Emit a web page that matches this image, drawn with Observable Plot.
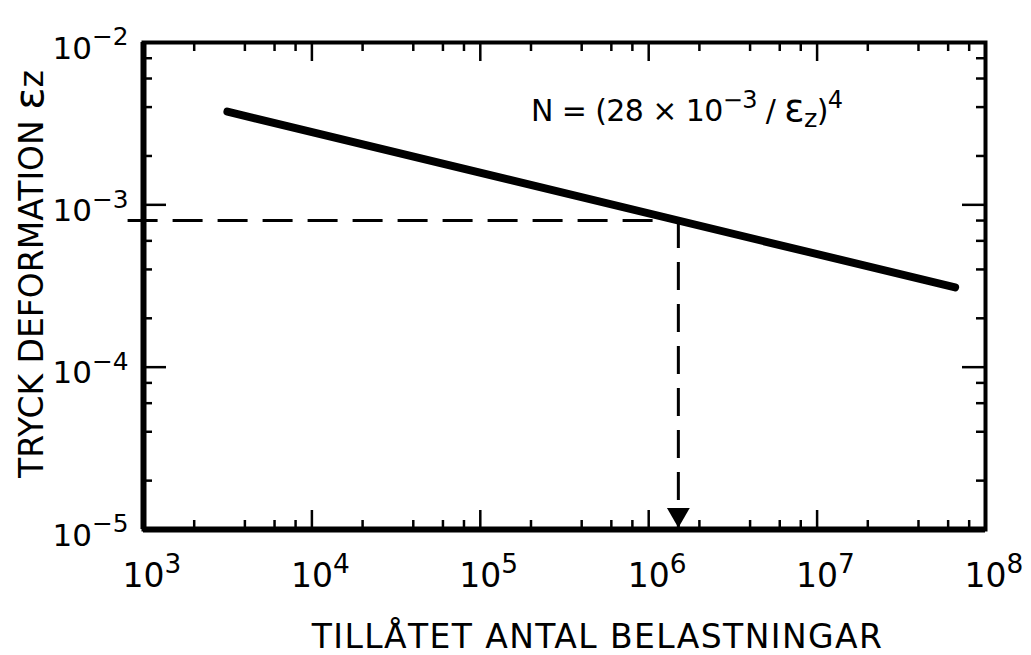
<!DOCTYPE html>
<html><head><meta charset="utf-8">
<script src="https://cdn.jsdelivr.net/npm/d3@7"></script>
<script src="https://cdn.jsdelivr.net/npm/@observablehq/plot@0.6"></script>
<style>
html,body{margin:0;padding:0;background:#fff;}
</style></head><body><div id="chart"></div>
<script>
// ---- data ----
const lineN = [3150, 6.6e7];            // ends of the fatigue line
const lineEps = [3.75e-3, 3.1e-4];
const designN = 1.5e6;                  // dashed read-off
const designEps = 8.0e-4;
const dashStartN = 810;                 // horizontal guide begins just left of axis
const xDecades = [1e3, 1e4, 1e5, 1e6, 1e7, 1e8];
const xExponents = ["3", "4", "5", "6", "7", "8"];
const yDecades = [1e-2, 1e-3, 1e-4, 1e-5];
const yExponents = ["−2", "−3", "−4", "−5"];
const minorMultipliers = [2, 4, 6, 8];
const xTitle = "TILLÅTET ANTAL BELASTNINGAR";
const yTitle = "TRYCK DEFORMATION εz";
const formula = "N = (28 × 10^{−3} / ε_{z})^{4}";
const formulaN = 2.0e5, formulaEps = 3.3e-3;

// ---- layout ----
const W = 1031, H = 655, ML = 143, MR = 46, MT = 42, MB = 126;
const FW = W - ML - MR, FH = H - MT - MB;
const minorLen = 9, majorLen = 19;

const lineData = lineN.map((n, i) => ({N: n, eps: lineEps[i]}));
const xMinor = xDecades.slice(0, -1).flatMap(d => minorMultipliers.map(m => d * m));
const xMajorInner = xDecades.slice(1, -1);
const yMinor = yDecades.slice(1).flatMap(d => minorMultipliers.map(m => d * m));
const yMajorInner = yDecades.slice(1, -1);

const tickStyle = {strokeWidth: 2.5, stroke: "black"};

const chart = Plot.plot({
  width: W, height: H,
  marginLeft: ML, marginRight: MR, marginTop: MT, marginBottom: MB,
  x: {type: "log", domain: [xDecades[0], xDecades[xDecades.length - 1]], axis: null},
  y: {type: "log", domain: [yDecades[yDecades.length - 1], yDecades[0]], axis: null},
  style: {fontFamily: "DejaVu Sans", color: "black", background: "white", overflow: "visible"},
  marks: [
    // inward ticks
    Plot.tickX(xMinor, {x: d => d, insetTop: FH - minorLen, ...tickStyle}),
    Plot.tickX(xMinor, {x: d => d, insetBottom: FH - minorLen, ...tickStyle}),
    Plot.tickX(xMajorInner, {x: d => d, insetTop: FH - majorLen, ...tickStyle}),
    Plot.tickX(xMajorInner, {x: d => d, insetBottom: FH - majorLen, ...tickStyle}),
    Plot.tickY(yMinor, {y: d => d, insetRight: FW - minorLen, ...tickStyle}),
    Plot.tickY(yMinor, {y: d => d, insetLeft: FW - minorLen, ...tickStyle}),
    Plot.tickY(yMajorInner, {y: d => d, insetRight: FW - majorLen - 4, ...tickStyle}),
    Plot.tickY(yMajorInner, {y: d => d, insetLeft: FW - majorLen - 4, ...tickStyle}),
    // frame
    Plot.frame({strokeWidth: 4, stroke: "black"}),
    Plot.ruleX([xDecades[0]], {strokeWidth: 6}),
    Plot.ruleY([yDecades[yDecades.length - 1]], {strokeWidth: 6}),
    // dashed read-off
    Plot.ruleY([designEps], {x1: dashStartN, x2: designN, strokeWidth: 3, strokeDasharray: "30,15"}),
    Plot.ruleX([designN], {y1: designEps, y2: yDecades[yDecades.length - 1], strokeWidth: 3, strokeDasharray: "28,14"}),
    Plot.dot([designN], {x: d => d, y: () => yDecades[yDecades.length - 1], symbol: "triangle", rotate: 180, r: 8.5, fill: "black", stroke: null, dy: -15}),
    // main line
    Plot.line(lineData, {x: "N", y: "eps", strokeWidth: 8, strokeLinecap: "round", stroke: "black"}),
    // tick labels
    Plot.text(xDecades, {x: d => d, frameAnchor: "bottom", text: (d, i) => "10^{" + xExponents[i] + "}", textAnchor: "start", lineAnchor: "bottom", dx: -21, dy: 57, fontSize: 33, fill: "black"}),
    Plot.text(yDecades, {y: d => d, frameAnchor: "left", text: (d, i) => "10^{" + yExponents[i] + "}", textAnchor: "end", lineAnchor: "bottom", dx: -15, dy: 16, fontSize: 31, fill: "black"}),
    // axis titles
    Plot.text([xTitle], {frameAnchor: "bottom", text: d => d, textAnchor: "middle", lineAnchor: "bottom", dx: 33, dy: 118, fontSize: 33, fill: "black"}),
    Plot.text([yTitle], {frameAnchor: "left", text: d => d, textAnchor: "middle", rotate: -90, lineAnchor: "bottom", dx: -101, dy: -12, fontSize: 33, fill: "black"}),
    // formula
    Plot.text([formula], {x: () => formulaN, y: () => formulaEps, text: d => d, textAnchor: "start", lineAnchor: "bottom", fontSize: 30, fill: "black"})
  ]
});

document.getElementById("chart").appendChild(chart);

// rich text: ^{..} superscript, _{..} subscript, enlarged ε
function richify(svg) {
  const NS = "http://www.w3.org/2000/svg";
  svg.querySelectorAll("text").forEach(t => {
    const s = t.textContent;
    if (!/[\^_]\{|ε/.test(s)) return;
    const fs = parseFloat(getComputedStyle(t).fontSize);
    while (t.firstChild) t.removeChild(t.firstChild);
    const re = /([\^_])\{([^}]*)\}/g;
    let pos = 0, m, base = 0;
    const emit = (str, offset, scale) => {
      for (const p of str.split(/(ε)/)) {
        if (!p) continue;
        const ts = document.createElementNS(NS, "tspan");
        const dy = offset - base;
        if (dy) ts.setAttribute("dy", dy);
        base = offset;
        const sc = scale * (p === "ε" ? 1.25 : 1);
        if (sc !== 1) ts.setAttribute("font-size", sc * fs);
        ts.textContent = p;
        t.appendChild(ts);
      }
    };
    while ((m = re.exec(s))) {
      if (m.index > pos) emit(s.slice(pos, m.index), 0, 1);
      if (m[1] === "^") emit(m[2], -0.42 * fs, 0.8);
      else emit(m[2], 0.2 * fs, 0.85);
      pos = re.lastIndex;
    }
    if (pos < s.length) emit(s.slice(pos), 0, 1);
  });
  svg.querySelectorAll("text").forEach(t => {
    if (t.textContent === xTitle) t.setAttribute("letter-spacing", "1.4");
    if (t.textContent.startsWith("N =")) t.setAttribute("letter-spacing", "-0.6");
  });
}
richify(chart);
</script>
</body></html>
